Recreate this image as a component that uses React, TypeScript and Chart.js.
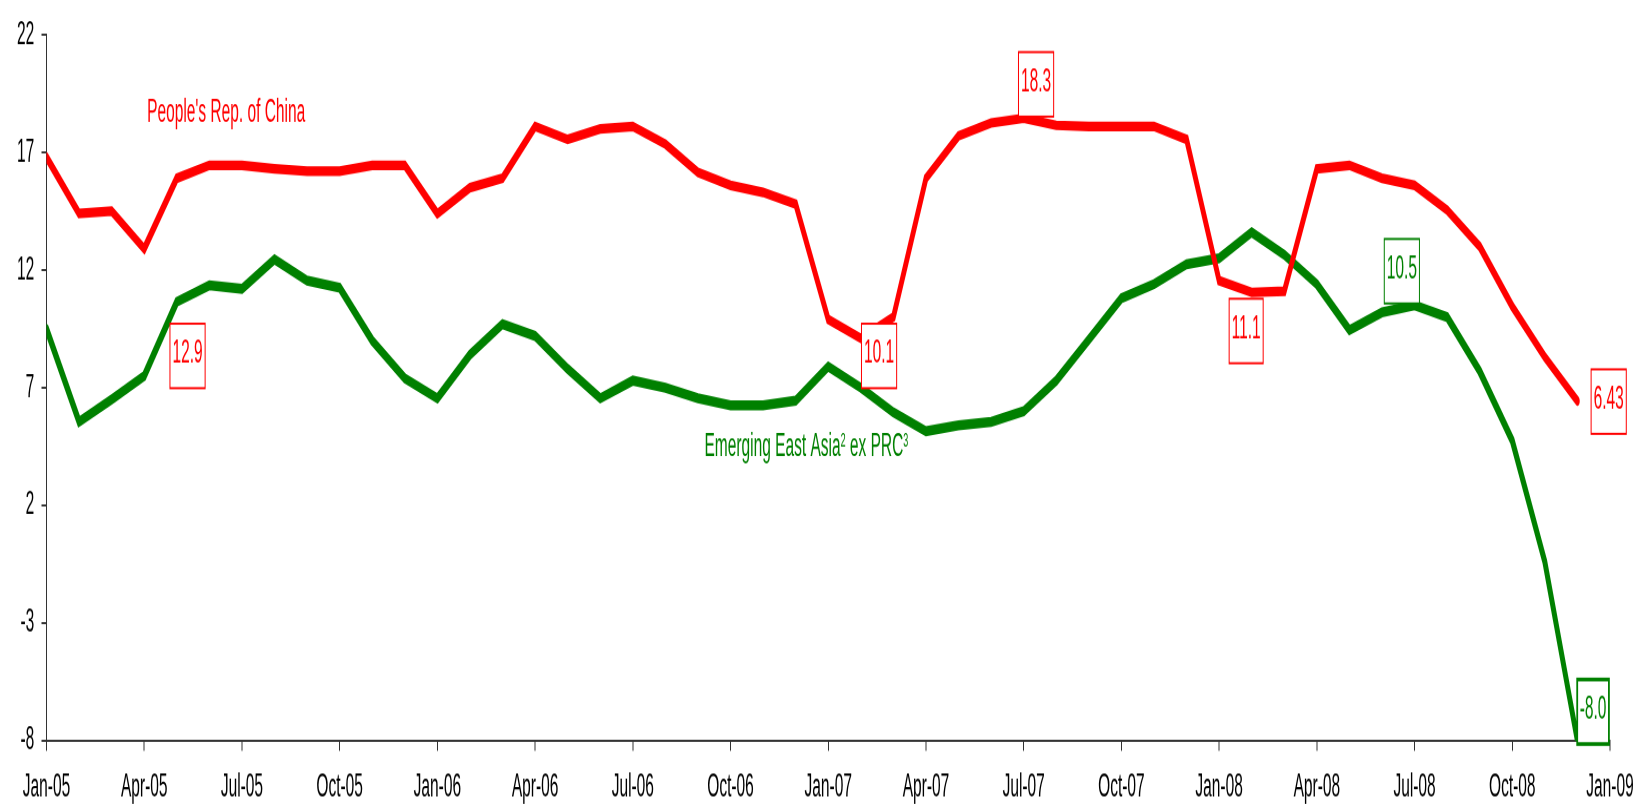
import { useEffect, useRef } from 'react';
import { Chart, registerables } from 'chart.js';

Chart.register(...registerables);

// ---------- data ----------
const MONTH_NAMES = ['Jan', 'Feb', 'Mar', 'Apr', 'May', 'Jun', 'Jul', 'Aug', 'Sep', 'Oct', 'Nov', 'Dec'];
// Jan-05 ... Jan-09 (49 monthly categories)
const MONTHS: string[] = Array.from({ length: 49 }, (_, i) =>
  `${MONTH_NAMES[i % 12]}-${String(5 + Math.floor(i / 12)).padStart(2, '0')}`
);

// People's Rep. of China, Jan-05 .. Dec-08
const CHINA = [
  16.8, 14.4, 14.5, 12.9, 15.9, 16.45, 16.45, 16.3, 16.2, 16.2, 16.45, 16.45,
  14.4, 15.5, 15.9, 18.1, 17.55, 18.0, 18.1, 17.35, 16.15, 15.6, 15.3, 14.8,
  9.9, 9.1, 10.0, 15.9, 17.7, 18.25, 18.45, 18.15, 18.1, 18.1, 18.1, 17.55,
  11.55, 11.05, 11.1, 16.3, 16.45, 15.9, 15.6, 14.55, 13.0, 10.45, 8.3, 6.43,
];

// Emerging East Asia ex PRC, Jan-05 .. Dec-08
const EEA = [
  9.5, 5.55, 6.5, 7.5, 10.65, 11.35, 11.2, 12.45, 11.55, 11.25, 9.0, 7.4,
  6.55, 8.4, 9.7, 9.2, 7.8, 6.55, 7.3, 7.0, 6.55, 6.25, 6.25, 6.45,
  7.9, 7.0, 5.95, 5.15, 5.4, 5.55, 6.0, 7.3, 9.05, 10.8, 11.4, 12.25,
  12.5, 13.6, 12.65, 11.4, 9.45, 10.2, 10.5, 10.0, 7.7, 4.75, -0.4, -8.0,
];

const Y_MIN = -8;
const Y_MAX = 22;
const Y_STEP = 5;
const X_STEP = 3;

const CHINA_NAME = [{ text: "People's Rep. of China", sup: false }];
const EEA_NAME = [
  { text: 'Emerging East Asia', sup: false },
  { text: '2', sup: true },
  { text: ' ex PRC', sup: false },
  { text: '3', sup: true },
];

// value call-outs: text, anchor in data units (month index, value)
const CALLOUTS = [
  { text: '12.9', at: [4.33, 8.35], series: 'china' },
  { text: '10.1', at: [25.56, 8.35], series: 'china' },
  { text: '18.3', at: [30.38, 19.89], series: 'china' },
  { text: '11.1', at: [36.83, 9.41], series: 'china' },
  { text: '6.43', at: [47.96, 6.41], series: 'china' },
  { text: '10.5', at: [41.61, 11.95], series: 'eea' },
  { text: '-8.0', at: [47.48, -6.77], series: 'eea', heavy: true },
];

// series-name positions (left/baseline, data units)
const NAME_POS = {
  china: [3.09, 18.3],
  eea: [20.2, 4.08],
};

// ---------- styles ----------
const RED = '#FF0000';
const GREEN = '#008000';
const AXIS = '#333333';
const FONT_FAMILY = '"Liberation Sans", Arial, sans-serif';
const FONT_SIZE = 15.5;
const SUP_SIZE = 9;

const W = 1648;
const H_FULL = 807;
const H = 384; // chart is drawn at this height and stretched vertically
const STRETCH = H_FULL / H;
const PLOT_TOP = 23.3 / STRETCH;
const PLOT_BOTTOM = 740.7 / STRETCH;
const BOX_H = 64.5 / STRETCH;

const calloutPlugin = {
  id: 'callouts',
  afterDatasetsDraw(chart: any) {
    const { ctx, scales } = chart;
    const xs = scales.x;
    const ys = scales.y;
    ctx.save();

    const drawName = (parts: { text: string; sup: boolean }[], pos: number[], color: string) => {
      let px = xs.getPixelForValue(pos[0]);
      const py = ys.getPixelForValue(pos[1]);
      ctx.fillStyle = color;
      ctx.textAlign = 'left';
      ctx.textBaseline = 'alphabetic';
      for (const p of parts) {
        ctx.font = `${p.sup ? SUP_SIZE : FONT_SIZE}px ${FONT_FAMILY}`;
        ctx.fillText(p.text, px, p.sup ? py - 4.6 : py);
        px += ctx.measureText(p.text).width;
      }
    };
    drawName(CHINA_NAME, NAME_POS.china, RED);
    drawName(EEA_NAME, NAME_POS.eea, GREEN);

    ctx.font = `${FONT_SIZE}px ${FONT_FAMILY}`;
    for (const c of CALLOUTS) {
      const color = c.series === 'china' ? RED : GREEN;
      const cx = xs.getPixelForValue(c.at[0]);
      const cy = ys.getPixelForValue(c.at[1]);
      const tw = ctx.measureText(c.text).width;
      const bw = tw + 5;
      const bh = BOX_H;
      ctx.fillStyle = '#ffffff';
      ctx.fillRect(cx - bw / 2, cy - bh / 2, bw, bh);
      ctx.strokeStyle = color;
      ctx.lineWidth = c.heavy ? 1.8 : 1;
      ctx.strokeRect(cx - bw / 2, cy - bh / 2, bw, bh);
      ctx.fillStyle = color;
      ctx.textAlign = 'center';
      ctx.textBaseline = 'middle';
      ctx.fillText(c.text, cx, cy - 1);
    }
    ctx.restore();
  },
};

export default function App() {
  const canvasRef = useRef<HTMLCanvasElement | null>(null);

  useEffect(() => {
    const canvas = canvasRef.current;
    if (!canvas) return;
    const font = { family: FONT_FAMILY, size: FONT_SIZE };
    const chart = new Chart(canvas, {
      type: 'line',
      data: {
        datasets: [
          {
            label: "People's Rep. of China",
            data: CHINA.map((v, i) => ({ x: i, y: v })),
            borderColor: RED,
            backgroundColor: RED,
            borderWidth: 4.6,
            pointRadius: 0,
            tension: 0,
            borderCapStyle: 'round',
            borderJoinStyle: 'miter',
          },
          {
            label: 'Emerging East Asia ex PRC',
            data: EEA.map((v, i) => ({ x: i, y: v })),
            borderColor: GREEN,
            backgroundColor: GREEN,
            borderWidth: 4.8,
            pointRadius: 0,
            tension: 0,
            borderCapStyle: 'round',
            borderJoinStyle: 'miter',
          },
        ],
      },
      options: {
        animation: false,
        responsive: false,
        maintainAspectRatio: false,
        devicePixelRatio: 2,
        layout: { padding: { top: PLOT_TOP, right: 38, left: 0, bottom: 0 } },
        plugins: {
          legend: { display: false },
          tooltip: { enabled: false },
          title: { display: false },
        },
        scales: {
          x: {
            type: 'linear',
            min: 0,
            max: MONTHS.length - 1,
            grid: {
              display: true,
              drawOnChartArea: false,
              drawTicks: true,
              tickLength: 4.8,
              color: AXIS,
              lineWidth: 1,
            },
            border: { display: true, color: AXIS, width: 1 },
            ticks: {
              stepSize: X_STEP,
              autoSkip: false,
              maxRotation: 0,
              minRotation: 0,
              padding: 8.2,
              color: '#000000',
              font,
              callback: (v: any) => MONTHS[Number(v)] ?? '',
            },
            afterFit: (s: any) => {
              s.height = H - PLOT_BOTTOM;
            },
          },
          y: {
            type: 'linear',
            min: Y_MIN,
            max: Y_MAX,
            grid: {
              display: true,
              drawOnChartArea: false,
              drawTicks: true,
              tickLength: 5,
              color: AXIS,
              lineWidth: 1,
            },
            border: { display: true, color: AXIS, width: 1 },
            ticks: {
              stepSize: Y_STEP,
              padding: 7.2,
              color: '#000000',
              font,
            },
            afterFit: (s: any) => {
              s.width = 46.5;
            },
          },
        },
      },
      plugins: [calloutPlugin],
    } as any);
    return () => chart.destroy();
  }, []);

  return (
    <div
      style={{
        position: 'fixed',
        left: 0,
        top: 0,
        width: W,
        height: H_FULL,
        overflow: 'hidden',
        background: '#ffffff',
      }}
    >
      <div
        style={{
          width: W,
          height: H,
          transform: `scaleY(${STRETCH})`,
          transformOrigin: '0 0',
        }}
      >
        <canvas ref={canvasRef} width={W} height={H} style={{ width: W, height: H, display: 'block' }} />
      </div>
    </div>
  );
}
